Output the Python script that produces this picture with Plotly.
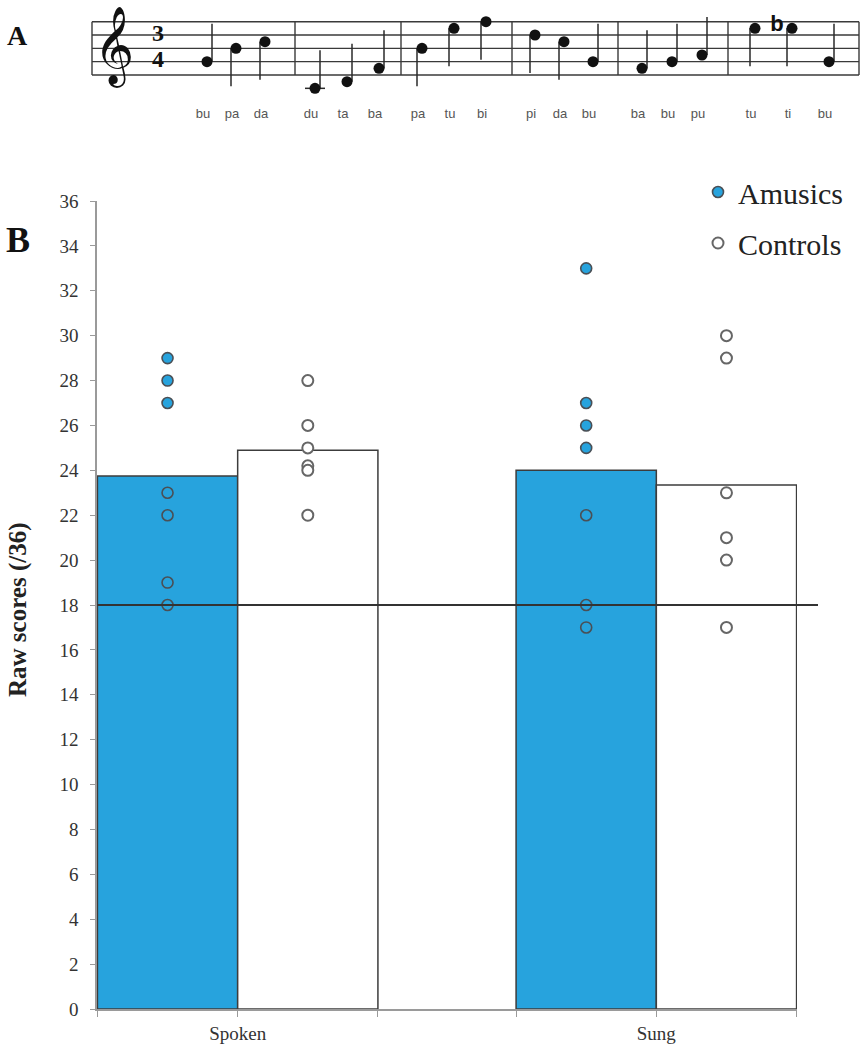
import plotly.graph_objects as go

W, H = 862, 1050

# ---------------- data ----------------
conditions = ["Spoken", "Sung"]
amusics_mean = [23.75, 24.0]
controls_mean = [24.9, 23.35]
amusics_scores = [
    [29, 28, 27, 23, 22, 19, 18],   # Spoken
    [33, 27, 26, 25, 22, 18, 17],   # Sung
]
controls_scores = [
    [28, 26, 25, 24.2, 24, 22],     # Spoken
    [30, 29, 23, 21, 20, 17],       # Sung
]
threshold = 18
y_tick_values = list(range(0, 37, 2))

# panel A melody
melody = [["G4", "B4", "C5"], ["C4", "D4", "F4"], ["B4", "E5", "F5"],
          ["D5", "C5", "G4"], ["F4", "G4", "A4"], ["E5", "Eb5", "G4"]]
syllables = [["bu", "pa", "da"], ["du", "ta", "ba"], ["pa", "tu", "bi"],
             ["pi", "da", "bu"], ["ba", "bu", "pu"], ["tu", "ti", "bu"]]

# ---------------- styles / layout constants ----------------
BLUE = "#27A3DD"
EDGE = "#3c3c3c"
AXIS = "#9a9a9a"
SERIF = "Liberation Serif, Times New Roman, serif"
SANS = "Liberation Sans, Arial, sans-serif"
bar_w = 0.335
offs = [-bar_w / 2, bar_w / 2]

# staff geometry (panel A, pixel-like units of the staff axes)
barlines = [92, 295, 401, 512, 618, 728, 859]
first_off = [115, 20, 21, 23, 24, 27]
note_gap = [29, 32, 32, 29, 30, 37]
staff_bottom = 75.0
half_space = 13.33 / 2
stem_len = 38
LETTER = {"C": 0, "D": 1, "E": 2, "F": 3, "G": 4, "A": 5, "B": 6}


def pitch_step(p):
    return (int(p[-1]) - 4) * 7 + LETTER[p[0]] - 2


fig = go.Figure()

# ---------------- panel B ----------------
xs = list(range(len(conditions)))
fig.add_trace(go.Bar(x=[x + offs[0] for x in xs], y=amusics_mean, width=bar_w,
                     marker=dict(color=BLUE, line=dict(color=EDGE, width=1.5)),
                     showlegend=False, hoverinfo="skip"))
fig.add_trace(go.Bar(x=[x + offs[1] for x in xs], y=controls_mean, width=bar_w,
                     marker=dict(color="white", line=dict(color=EDGE, width=1.5)),
                     showlegend=False, hoverinfo="skip"))

ax, ay = [], []
for i, vals in enumerate(amusics_scores):
    ax += [i + offs[0]] * len(vals)
    ay += vals
cx, cy = [], []
for i, vals in enumerate(controls_scores):
    cx += [i + offs[1]] * len(vals)
    cy += vals

fig.add_trace(go.Scatter(x=ax, y=ay, mode="markers", name="Amusics",
                         legendgroup="a",
                         marker=dict(size=11, color=BLUE, line=dict(color="#4a4f55", width=1.6))))
fig.add_trace(go.Scatter(x=cx, y=cy, mode="markers", name="Controls",
                         legendgroup="c",
                         marker=dict(size=11, color="white", line=dict(color="#666666", width=2))))

fig.add_shape(type="line", xref="paper", yref="y",
              x0=97 / W, x1=818 / W, y0=threshold, y1=threshold,
              line=dict(color="#333333", width=2.2), layer="above")

# ---------------- panel A (staff) ----------------
sx, sy = [], []
for k in range(5):
    yv = staff_bottom - 2 * k * half_space
    sx += [barlines[0], barlines[-1], None]
    sy += [yv, yv, None]
top_line = staff_bottom - 8 * half_space
for b in barlines:
    sx += [b, b, None]
    sy += [staff_bottom, top_line, None]
fig.add_trace(go.Scatter(x=sx, y=sy, mode="lines", xaxis="x2", yaxis="y2",
                         line=dict(color="#3a3a3a", width=1.4),
                         showlegend=False, hoverinfo="skip"))

nx, ny, stx, sty, lx, ly = [], [], [], [], [], []
flat_x, flat_y = [], []
syl_x, syl_y, syl_t = [], [], []
for m, notes in enumerate(melody):
    for j, p in enumerate(notes):
        x = barlines[m] + first_off[m] + j * note_gap[m]
        st = pitch_step(p)
        y = staff_bottom - st * half_space
        nx.append(x)
        ny.append(y)
        if st >= 4:   # stem down, left side
            stx += [x - 5, x - 5, None]
            sty += [y, y + stem_len, None]
        else:         # stem up, right side
            stx += [x + 5, x + 5, None]
            sty += [y, y - stem_len, None]
        s = st
        while s <= -2:
            if s % 2 == 0:
                yl = staff_bottom - s * half_space
                lx += [x - 10, x + 10, None]
                ly += [yl, yl, None]
            s += 1
        if "b" in p[1:-1]:
            flat_x.append(x - 15)
            flat_y.append(y - 3)
        syl_x.append(x - 4)
        syl_y.append(115)
        syl_t.append(syllables[m][j])

fig.add_trace(go.Scatter(x=stx, y=sty, mode="lines", xaxis="x2", yaxis="y2",
                         line=dict(color="#2a2a2a", width=1.5),
                         showlegend=False, hoverinfo="skip"))
fig.add_trace(go.Scatter(x=lx, y=ly, mode="lines", xaxis="x2", yaxis="y2",
                         line=dict(color="#2a2a2a", width=1.5),
                         showlegend=False, hoverinfo="skip"))
fig.add_trace(go.Scatter(x=nx, y=ny, mode="markers", xaxis="x2", yaxis="y2",
                         marker=dict(symbol="circle", size=11, color="#111111"),
                         showlegend=False, hoverinfo="skip"))
fig.add_trace(go.Scatter(x=flat_x, y=flat_y, mode="text", text=["<b>b</b>"] * len(flat_x),
                         xaxis="x2", yaxis="y2",
                         textfont=dict(family=SANS, size=22, color="#111111"),
                         showlegend=False, hoverinfo="skip"))
fig.add_trace(go.Scatter(x=syl_x, y=syl_y, mode="text", text=syl_t,
                         xaxis="x2", yaxis="y2",
                         textfont=dict(family=SANS, size=13, color="#555555"),
                         showlegend=False, hoverinfo="skip"))
fig.add_trace(go.Scatter(x=[114], y=[51], mode="text", text=["\U0001D11E"],
                         xaxis="x2", yaxis="y2",
                         textfont=dict(family="DejaVu Sans", size=68, color="#111"),
                         showlegend=False, hoverinfo="skip"))
fig.add_trace(go.Scatter(x=[158, 158], y=[35, 61], mode="text", text=["<b>3</b>", "<b>4</b>"],
                         xaxis="x2", yaxis="y2",
                         textfont=dict(family=SERIF, size=24, color="#111"),
                         showlegend=False, hoverinfo="skip"))

# ---------------- annotations ----------------
fig.add_annotation(x=17 / W, y=1 - 36 / H, xref="paper", yref="paper", text="<b>A</b>",
                   xanchor="center", yanchor="middle",
                   showarrow=False, font=dict(family=SERIF, size=28, color="#111"))
fig.add_annotation(x=18 / W, y=1 - 240 / H, xref="paper", yref="paper", text="<b>B</b>",
                   xanchor="center", yanchor="middle",
                   showarrow=False, font=dict(family=SERIF, size=36, color="#111"))
fig.add_annotation(x=18 / W, y=1 - 610 / H, xref="paper", yref="paper",
                   text="<b>Raw scores (/36)</b>", textangle=-90, showarrow=False,
                   xanchor="center", yanchor="middle",
                   font=dict(family=SERIF, size=25, color="#222"))

# ---------------- layout ----------------
fig.update_layout(
    width=W, height=H, template="none",
    margin=dict(l=0, r=0, t=0, b=0),
    paper_bgcolor="white", plot_bgcolor="rgba(0,0,0,0)",
    barmode="overlay",
    showlegend=True,
    legend=dict(x=698 / W, y=1 - 166 / H, xanchor="left", yanchor="top",
                font=dict(family=SERIF, size=30, color="#222"),
                bgcolor="rgba(0,0,0,0)", tracegroupgap=9, traceorder="grouped",
                itemsizing="trace"),
    xaxis=dict(domain=[97 / W, 797 / W], range=[-0.336, 1.336], anchor="y",
               tickvals=[-0.335, 0, 0.335, 0.665, 1, 1.335],
               ticktext=["", conditions[0], "", "", conditions[1], ""],
               ticks="outside", ticklen=6, tickcolor=AXIS, tickwidth=1.2,
               showline=True, linecolor=AXIS, linewidth=1.5,
               showgrid=False, zeroline=False, automargin=False,
               tickfont=dict(family=SERIF, size=19, color="#333")),
    yaxis=dict(domain=[(H - 1009) / H, (H - 201) / H], range=[0, 36], anchor="x",
               tickvals=y_tick_values, ticks="outside", ticklen=5, tickcolor=AXIS,
               tickwidth=1.2, showline=True, linecolor=AXIS, linewidth=1.5,
               showgrid=False, zeroline=False, automargin=False,
               ticklabelstandoff=8,
               tickfont=dict(family=SERIF, size=19, color="#333")),
    xaxis2=dict(domain=[0, 1], range=[0, W], anchor="y2", visible=False, fixedrange=True),
    yaxis2=dict(domain=[1 - 130 / H, 1], range=[130, 0], anchor="x2", visible=False,
                fixedrange=True),
)

fig.write_html("out.html",
               config={"displayModeBar": False},
               post_script="document.body.style.margin='0px';"
                           "document.body.style.overflow='hidden';")
